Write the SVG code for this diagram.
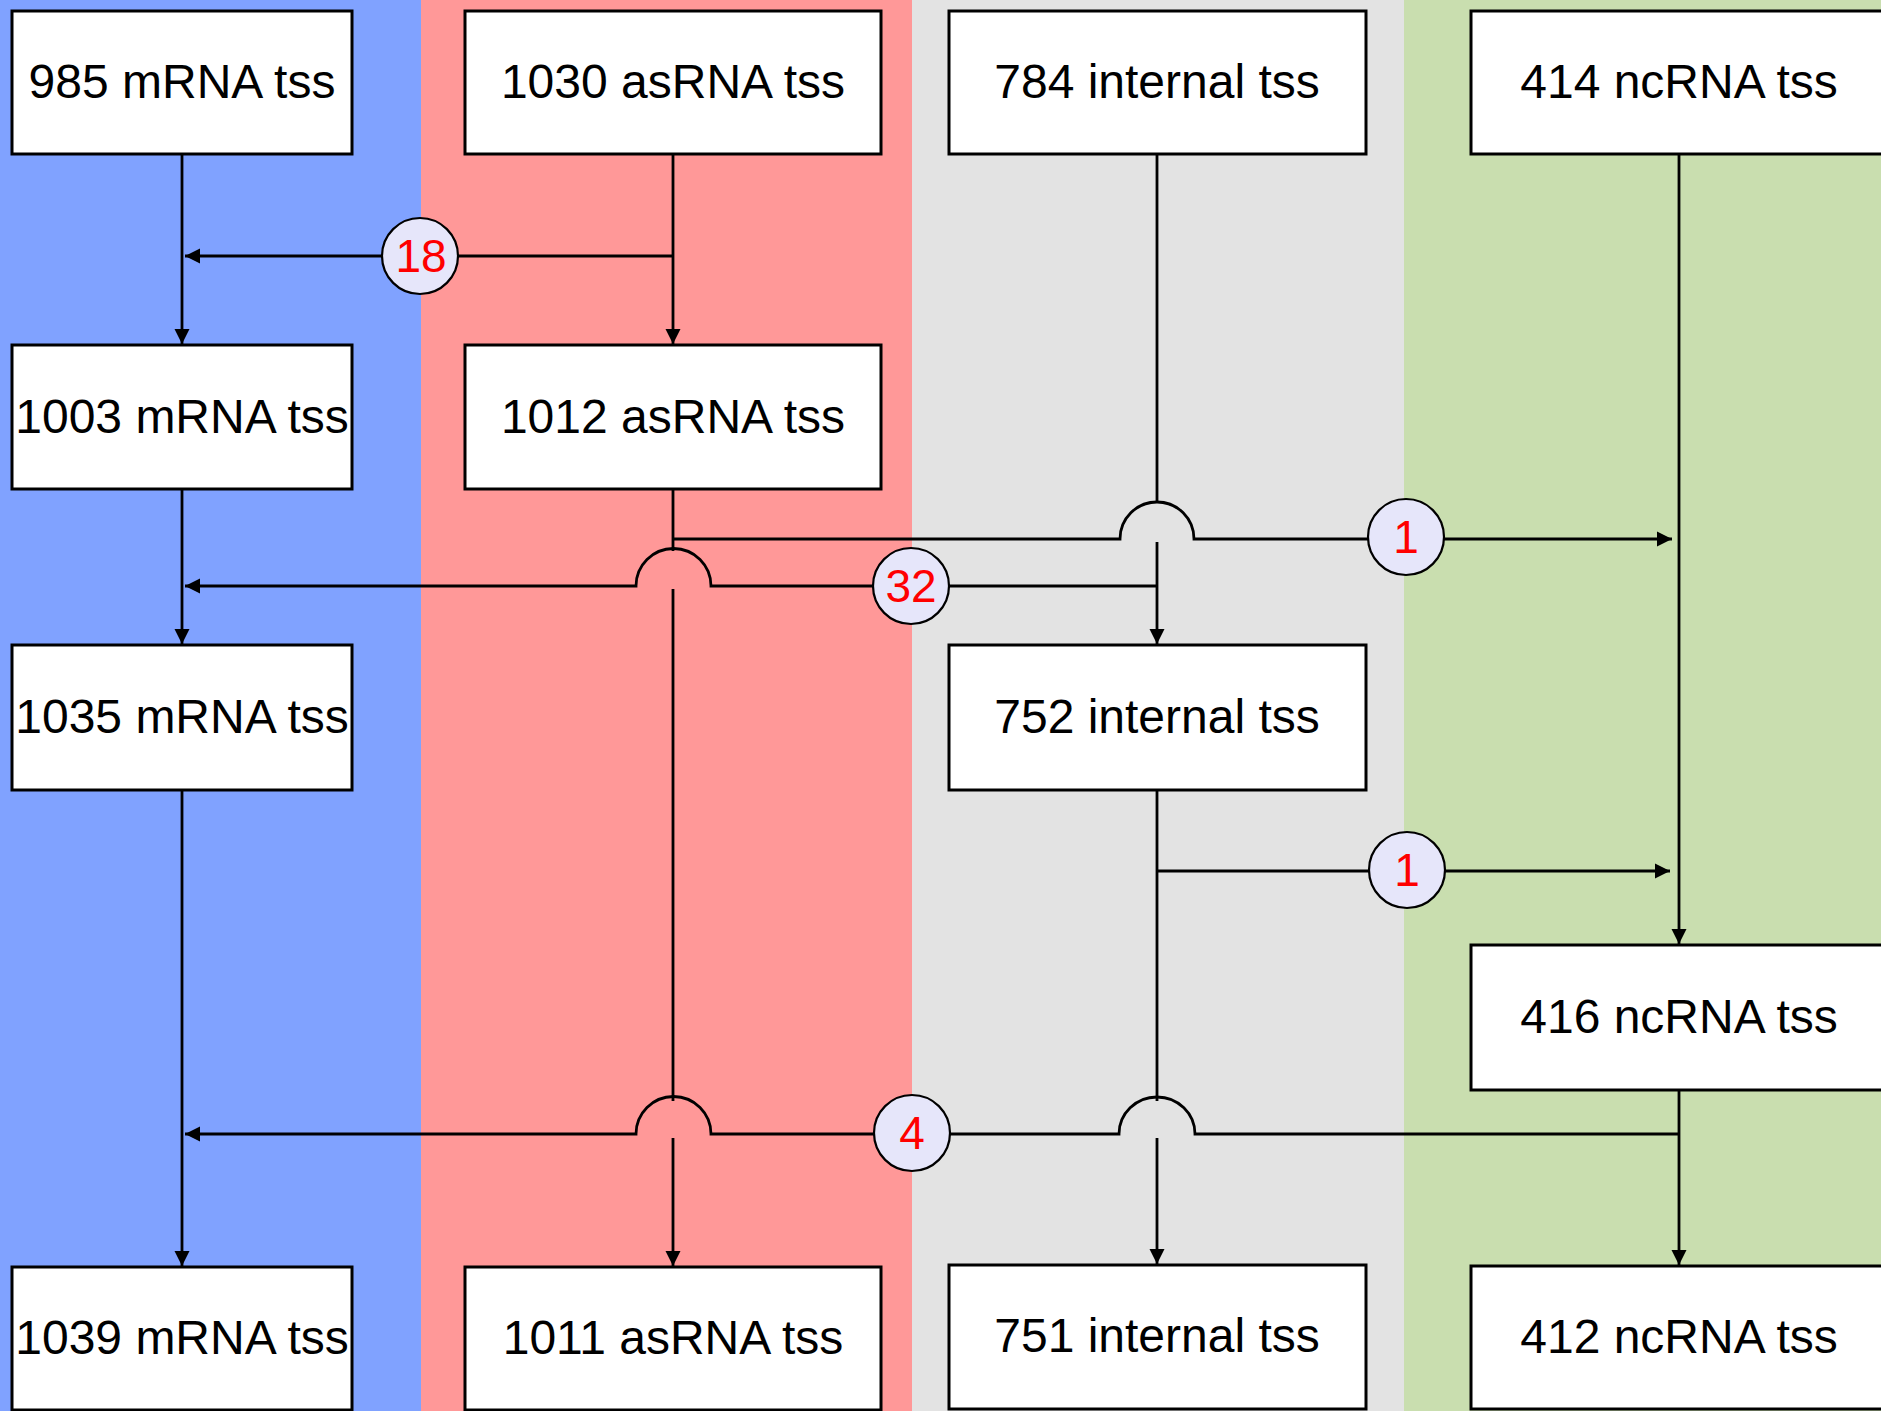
<svg xmlns="http://www.w3.org/2000/svg" width="1881" height="1411" viewBox="0 0 1881 1411">
<style>
.box{fill:#ffffff;stroke:#000000;stroke-width:3}
.lbl{font-family:"Liberation Sans",Arial,sans-serif;font-size:48px;fill:#000000;text-anchor:middle}
.conn{fill:none;stroke:#000000;stroke-width:2.8}
.arr{marker-end:url(#ah)}
.badge{fill:#E6E6FA;stroke:#000000;stroke-width:2.2}
.num{font-family:"Liberation Sans",Arial,sans-serif;font-size:46px;fill:#FF0000;text-anchor:middle}
</style>
<defs>
<marker id="ah" markerWidth="16" markerHeight="16" refX="15" refY="8" orient="auto" markerUnits="userSpaceOnUse">
<path d="M0,0.5 L15,8 L0,15.5 z" fill="#000000"/>
</marker>
</defs>
<g id="bands">
<rect x="0" y="0" width="421" height="1411" fill="#80A2FF"/>
<rect x="421" y="0" width="491" height="1411" fill="#FF9898"/>
<rect x="912" y="0" width="492" height="1411" fill="#E3E3E3"/>
<rect x="1404" y="0" width="477" height="1411" fill="#C9DEAF"/>
</g>
<g id="connectors">
<path class="conn arr" d="M182,154 V344"/>
<path class="conn arr" d="M673,154 V344"/>
<path class="conn arr" d="M673,256 H185"/>
<path class="conn arr" d="M182,489 V644"/>
<path class="conn" d="M673,489 V551 M673,589 V1101"/>
<path class="conn arr" d="M673,1138 V1266"/>
<path class="conn arr" d="M673,539 H1120 A37,37 0 0 1 1194,539 H1672"/>
<path class="conn" d="M1157,154 V503"/>
<path class="conn arr" d="M1157,542 V644"/>
<path class="conn arr" d="M1157,586 H711 A37,37 0 0 0 636,586 H185"/>
<path class="conn arr" d="M1157,871 H1670"/>
<path class="conn" d="M1157,790 V1101"/>
<path class="conn arr" d="M1157,1138 V1264"/>
<path class="conn arr" d="M1679,154 V944"/>
<path class="conn arr" d="M1679,1090 V1265"/>
<path class="conn arr" d="M1679,1134 H1195 A38,37 0 0 0 1119,1134 H711 A37,37 0 0 0 636,1134 H185"/>
<path class="conn arr" d="M182,790 V1266"/>
<g id="badge-18"><ellipse class="badge" cx="420" cy="256" rx="38" ry="38"/><text class="num" x="421" y="272">18</text></g>
<g id="badge-1a"><ellipse class="badge" cx="1406" cy="537" rx="38" ry="38"/><text class="num" x="1406" y="553">1</text></g>
<g id="badge-32"><ellipse class="badge" cx="911" cy="586" rx="38" ry="38"/><text class="num" x="911" y="602">32</text></g>
<g id="badge-1b"><ellipse class="badge" cx="1407" cy="870" rx="38" ry="38"/><text class="num" x="1407" y="886">1</text></g>
<g id="badge-4"><ellipse class="badge" cx="912" cy="1133" rx="38" ry="38"/><text class="num" x="912" y="1149">4</text></g>
</g>
<g id="n985"><rect class="box" x="12" y="11" width="340" height="143"/><text class="lbl" x="182" y="98">985 mRNA tss</text></g>
<g id="n1030"><rect class="box" x="465" y="11" width="416" height="143"/><text class="lbl" x="673" y="98">1030 asRNA tss</text></g>
<g id="n784"><rect class="box" x="949" y="11" width="417" height="143"/><text class="lbl" x="1157" y="98">784 internal tss</text></g>
<g id="n414"><rect class="box" x="1471" y="11" width="416" height="143"/><text class="lbl" x="1679" y="98">414 ncRNA tss</text></g>
<g id="n1003"><rect class="box" x="12" y="345" width="340" height="144"/><text class="lbl" x="182" y="433">1003 mRNA tss</text></g>
<g id="n1012"><rect class="box" x="465" y="345" width="416" height="144"/><text class="lbl" x="673" y="433">1012 asRNA tss</text></g>
<g id="n1035"><rect class="box" x="12" y="645" width="340" height="145"/><text class="lbl" x="182" y="733">1035 mRNA tss</text></g>
<g id="n752"><rect class="box" x="949" y="645" width="417" height="145"/><text class="lbl" x="1157" y="733">752 internal tss</text></g>
<g id="n416"><rect class="box" x="1471" y="945" width="416" height="145"/><text class="lbl" x="1679" y="1033">416 ncRNA tss</text></g>
<g id="n1039"><rect class="box" x="12" y="1267" width="340" height="143"/><text class="lbl" x="182" y="1354">1039 mRNA tss</text></g>
<g id="n1011"><rect class="box" x="465" y="1267" width="416" height="143"/><text class="lbl" x="673" y="1354">1011 asRNA tss</text></g>
<g id="n751"><rect class="box" x="949" y="1265" width="417" height="144"/><text class="lbl" x="1157" y="1352">751 internal tss</text></g>
<g id="n412"><rect class="box" x="1471" y="1266" width="416" height="143"/><text class="lbl" x="1679" y="1353">412 ncRNA tss</text></g>
</svg>
